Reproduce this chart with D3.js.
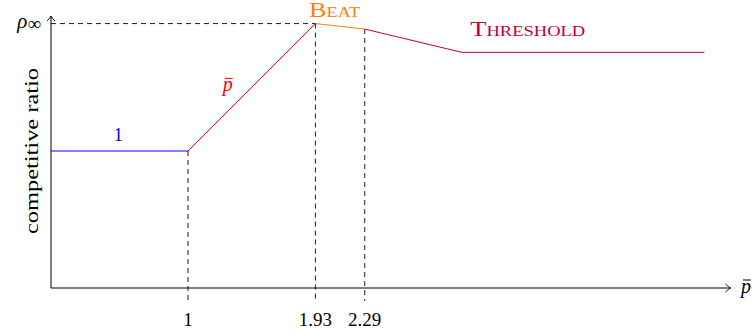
<!DOCTYPE html>
<html>
<head>
<meta charset="utf-8">
<script src="https://cdn.jsdelivr.net/npm/d3@7"></script>
<style>
  body { margin: 0; background: #fff; }
</style>
</head>
<body>
<svg id="chart" width="754" height="335"></svg>
<script>
// data
const oneLine       = [[0, 1], [1, 1]];
const pbarLine      = [[1, 1], [1.93, 1.93]];
const beatLine      = [[1.93, 1.93], [2.29, 1.89]];
const thresholdLine = [[2.29, 1.89], [3, 1.72], [4.77, 1.72]];
const tickValues    = [1, 1.93, 2.29];
const tickLabels    = ["1", "1.93", "2.29"];
const rhoInf        = 1.93;

const svg = d3.select("#chart")
  .attr("font-family", "'Liberation Serif', 'Times New Roman', serif");
const fs = 19;

// scales (same unit length on both axes)
const x = d3.scaleLinear().domain([0, 5]).range([51, 736]);
const y = d3.scaleLinear().domain([0, 2]).range([288, 14]);

// arrow head like tikz "->"
svg.append("defs").append("marker")
    .attr("id", "arrow")
    .attr("viewBox", "-6 -5 8 10")
    .attr("refX", 0)
    .attr("refY", 0)
    .attr("markerWidth", 8)
    .attr("markerHeight", 10)
    .attr("markerUnits", "userSpaceOnUse")
    .attr("orient", "auto")
  .append("path")
    .attr("d", "M-5,-4 Q-2,-1 0,0 Q-2,1 -5,4")
    .attr("fill", "none")
    .attr("stroke", "#000")
    .attr("stroke-width", 0.9);

// dashed guides
const dash = svg.append("g")
  .attr("stroke", "#000")
  .attr("stroke-width", 0.9)
  .attr("stroke-dasharray", "5,4");

dash.append("line")
  .attr("x1", x(0)).attr("x2", x(rhoInf))
  .attr("y1", y(rhoInf)).attr("y2", y(rhoInf));

const guideTop = [1, 1.93, 1.89];
dash.selectAll(".vguide")
  .data(tickValues)
  .join("line")
    .attr("class", "vguide")
    .attr("x1", d => x(d)).attr("x2", d => x(d))
    .attr("y1", (d, i) => y(guideTop[i]))
    .attr("y2", y(0) + 13);

// axes
svg.append("line")
  .attr("x1", x(0)).attr("x2", x(4.96))
  .attr("y1", y(0)).attr("y2", y(0))
  .attr("stroke", "#000").attr("stroke-width", 1)
  .attr("marker-end", "url(#arrow)");
svg.append("line")
  .attr("x1", x(0)).attr("x2", x(0))
  .attr("y1", y(0)).attr("y2", y(1.985))
  .attr("stroke", "#000").attr("stroke-width", 1)
  .attr("marker-end", "url(#arrow)");

// curves
const line = d3.line().x(d => x(d[0])).y(d => y(d[1]));
const series = [
  { pts: oneLine,       color: "#0000ff" },
  { pts: pbarLine,      color: "#ff0000" },
  { pts: beatLine,      color: "#ff8000" },
  { pts: thresholdLine, color: "#bf0040" }
];
svg.append("g").selectAll("path")
  .data(series)
  .join("path")
    .attr("d", d => line(d.pts))
    .attr("fill", "none")
    .attr("stroke", d => d.color)
    .attr("stroke-width", 1);

// tick labels
svg.append("g").selectAll("text")
  .data(tickValues)
  .join("text")
    .attr("x", d => x(d))
    .attr("y", y(0) + 38)
    .attr("text-anchor", "middle")
    .attr("font-size", fs)
    .text((d, i) => tickLabels[i]);

// p-bar label helper: italic p with a bar drawn above
function pbar(px, py, color) {
  const g = svg.append("g");
  g.append("text")
    .attr("x", px).attr("y", py)
    .attr("text-anchor", "middle")
    .attr("fill", color)
    .attr("font-size", 20)
    .attr("font-style", "italic")
    .text("p");
  g.append("line")
    .attr("x1", px - 3).attr("x2", px + 5)
    .attr("y1", py - 13).attr("y2", py - 13)
    .attr("stroke", color).attr("stroke-width", 1);
}

// axis labels
pbar(746, y(0) + 5, "#000");
svg.append("text")
  .attr("x", 41).attr("y", y(rhoInf) + 4)
  .attr("text-anchor", "end")
  .attr("font-size", 21)
  .html("<tspan font-style='italic'>ρ</tspan><tspan dy='2' font-size='19'>∞</tspan>");
svg.append("text")
  .attr("transform", `translate(38,${y(1.0)}) rotate(-90)`)
  .attr("text-anchor", "middle")
  .attr("font-size", fs)
  .attr("textLength", 166)
  .attr("lengthAdjust", "spacingAndGlyphs")
  .text("competitive ratio");

// curve labels
pbar(x(1.29), y(1.435), "#ff0000");
const curveLabels = [
  { x: 0.49, y: 1.07, text: "1",         color: "#0000ff", len: null },
  { x: 2.07, y: 1.98, text: "Beat",      color: "#ff8000", len: 51 },
  { x: 3.48, y: 1.84, text: "Threshold", color: "#bf0040", len: 115 }
];
svg.append("g").selectAll("text")
  .data(curveLabels)
  .join("text")
    .attr("x", d => x(d.x))
    .attr("y", d => y(d.y))
    .attr("text-anchor", "middle")
    .attr("fill", d => d.color)
    .attr("font-size", d => d.len ? 20 : fs)
    .attr("font-variant", d => d.len ? "small-caps" : "normal")
    .attr("textLength", d => d.len)
    .attr("lengthAdjust", "spacingAndGlyphs")
    .text(d => d.text);
</script>
</body>
</html>
